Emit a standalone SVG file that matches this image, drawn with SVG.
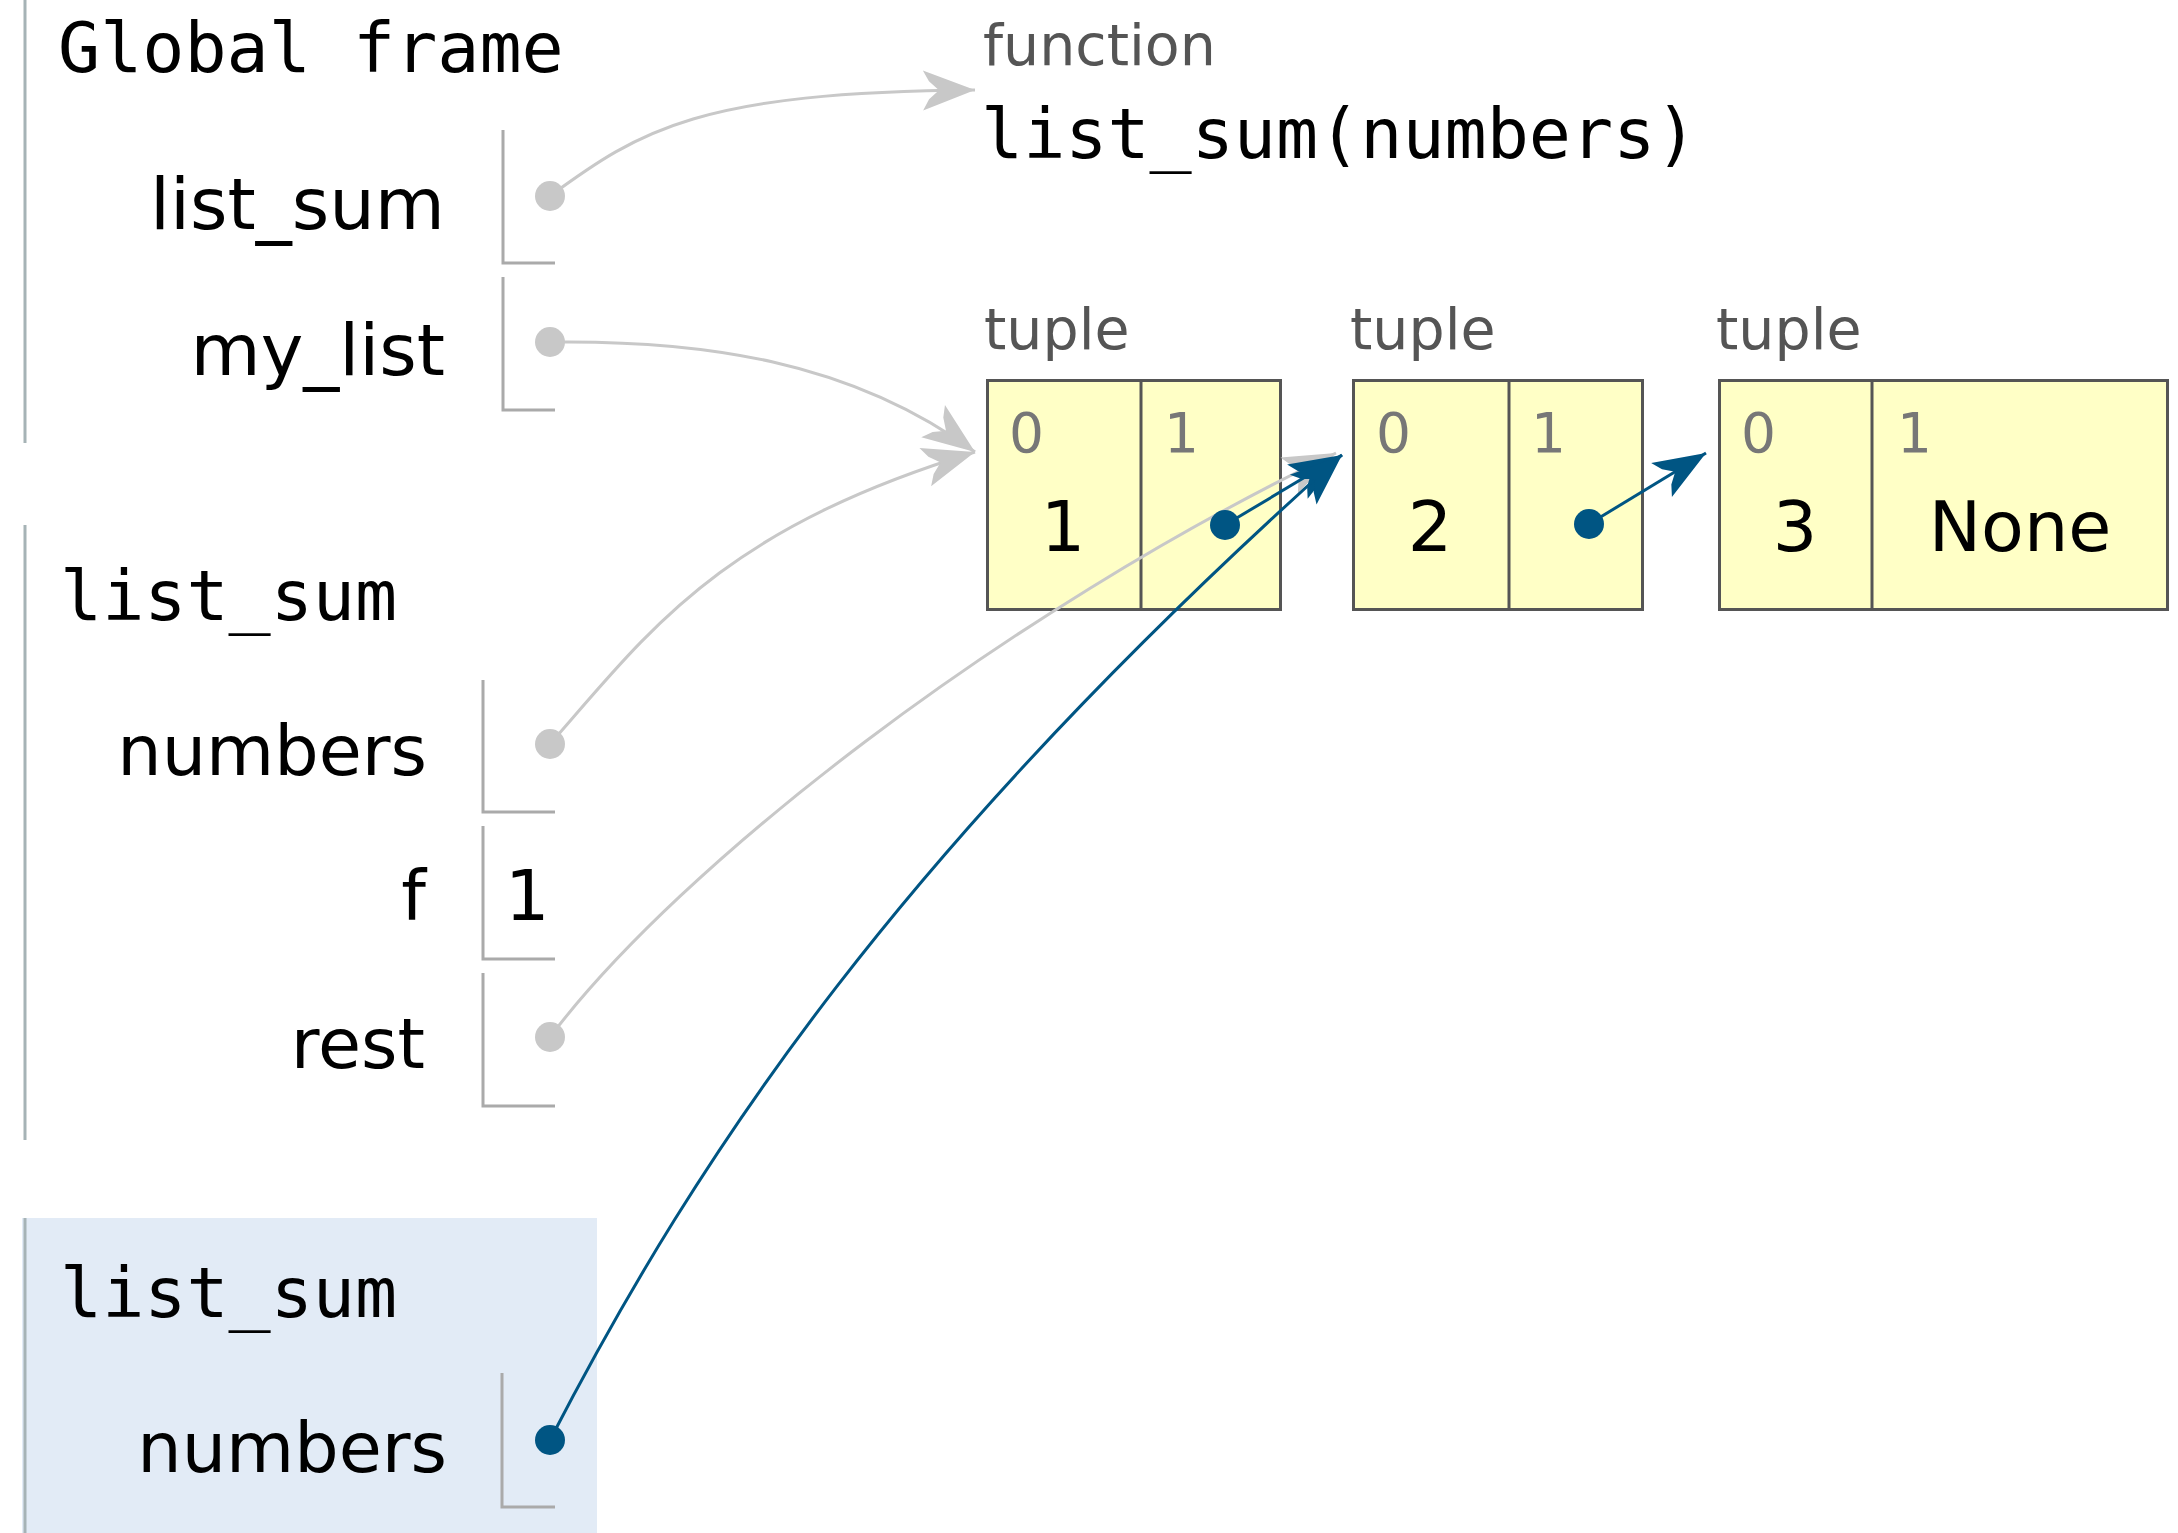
<svg xmlns="http://www.w3.org/2000/svg" width="2178" height="1533" viewBox="0 0 2178 1533">
  <style>
    .mono { font-family: "DejaVu Sans Mono", "Liberation Mono", monospace; font-size: 70px; fill: #000; }
    .var { font-family: "DejaVu Sans", Verdana, sans-serif; font-size: 70px; fill: #000; text-anchor: end; }
    .var-g { font-size: 72px; }
    .val { font-family: "DejaVu Sans", Verdana, sans-serif; font-size: 70px; fill: #000; }
    .type { font-family: "DejaVu Sans", Verdana, sans-serif; font-size: 57px; fill: #555; }
    .idx { font-family: "DejaVu Sans", Verdana, sans-serif; font-size: 55px; fill: #777; }
    .bar { stroke: #a6b3b6; stroke-width: 3; fill: none; }
    .cell { stroke: #aaaaaa; stroke-width: 3; fill: none; }
    .tup { fill: #ffffc6; stroke: #555; stroke-width: 3; }
    .div { stroke: #555; stroke-width: 3; }
    .light { stroke: #c8c8c8; stroke-width: 3; fill: none; }
    .dark { stroke: #005583; stroke-width: 3; fill: none; }
    .dot-light { fill: #c8c8c8; }
    .dot-dark { fill: #005583; }
  </style>
  <defs>
    <marker id="head-light" markerUnits="userSpaceOnUse" markerWidth="60" markerHeight="46" viewBox="-55 -23 58 46" refX="0" refY="0" orient="auto">
      <path d="M0,0 L-52,-20 L-46,-9 L-36,0 L-46,9 L-52,20 Z" fill="#c8c8c8"/>
    </marker>
    <marker id="head-dark" markerUnits="userSpaceOnUse" markerWidth="60" markerHeight="46" viewBox="-55 -23 58 46" refX="0" refY="0" orient="auto">
      <path d="M0,0 L-52,-20 L-46,-9 L-36,0 L-46,9 L-52,20 Z" fill="#005583"/>
    </marker>
  </defs>

  <rect width="2178" height="1533" fill="#ffffff"/>

  <!-- Global frame -->
  <g id="global-frame">
    <line class="bar" x1="25" y1="0" x2="25" y2="443"/>
    <text class="mono" x="58" y="72">Global frame</text>
    <text class="var var-g" x="445" y="229">list_sum</text>
    <polyline class="cell" points="503,130 503,263 555,263"/>
    <text class="var var-g" x="445" y="375">my_list</text>
    <polyline class="cell" points="503,277 503,410 555,410"/>
  </g>

  <!-- list_sum frame (outer call) -->
  <g id="frame-list-sum-1">
    <line class="bar" x1="25" y1="525" x2="25" y2="1140"/>
    <text class="mono" x="60" y="620">list_sum</text>
    <text class="var" x="427" y="775">numbers</text>
    <polyline class="cell" points="483,680 483,812 555,812"/>
    <text class="var" x="426" y="920">f</text>
    <polyline class="cell" points="483,826 483,959 555,959"/>
    <text class="val" x="505" y="920">1</text>
    <text class="var" x="425" y="1068">rest</text>
    <polyline class="cell" points="483,973 483,1106 555,1106"/>
  </g>

  <!-- list_sum frame (current call, highlighted) -->
  <g id="frame-list-sum-2">
    <rect x="22" y="1218" width="575" height="315" fill="#e2ebf6"/>
    <line class="bar" x1="25" y1="1218" x2="25" y2="1533"/>
    <text class="mono" x="60" y="1317">list_sum</text>
    <text class="var" x="447" y="1472">numbers</text>
    <polyline class="cell" points="502,1373 502,1507 555,1507"/>
  </g>

  <!-- function object -->
  <g id="func-list-sum">
    <text class="type" x="983" y="65">function</text>
    <text class="mono" x="981" y="158">list_sum(numbers)</text>
  </g>

  <!-- tuple (1, ...) -->
  <g id="tuple-1">
    <text class="type" x="984" y="349">tuple</text>
    <rect class="tup" x="987.5" y="380.5" width="293" height="229"/>
    <line class="div" x1="1141" y1="380.5" x2="1141" y2="609.5"/>
    <text class="idx" x="1009" y="452">0</text>
    <text class="idx" x="1164" y="452">1</text>
    <text class="val" x="1063" y="551" text-anchor="middle">1</text>
  </g>

  <!-- tuple (2, ...) -->
  <g id="tuple-2">
    <text class="type" x="1350" y="349">tuple</text>
    <rect class="tup" x="1353.5" y="380.5" width="289" height="229"/>
    <line class="div" x1="1509" y1="380.5" x2="1509" y2="609.5"/>
    <text class="idx" x="1376" y="452">0</text>
    <text class="idx" x="1531" y="452">1</text>
    <text class="val" x="1430" y="551" text-anchor="middle">2</text>
  </g>

  <!-- tuple (3, None) -->
  <g id="tuple-3">
    <text class="type" x="1716" y="349">tuple</text>
    <rect class="tup" x="1719.5" y="380.5" width="448" height="229"/>
    <line class="div" x1="1872" y1="380.5" x2="1872" y2="609.5"/>
    <text class="idx" x="1741" y="452">0</text>
    <text class="idx" x="1897" y="452">1</text>
    <text class="val" x="1795" y="551" text-anchor="middle">3</text>
    <text class="val" x="2020" y="551" text-anchor="middle">None</text>
  </g>

  <!-- pointers -->
  <g id="connectors">
    <path class="light" d="M550,196 C640,130 700,92 975,90" marker-end="url(#head-light)"/>
    <path class="light" d="M550,342 C700,340 850,360 975,452" marker-end="url(#head-light)"/>
    <path class="light" d="M550,744 C650,630 720,530 975,452" marker-end="url(#head-light)"/>
    <path class="light" d="M550,1037 C680,865 1000,615 1336,453" marker-end="url(#head-light)"/>
    <circle class="dot-light" cx="550" cy="196" r="15"/>
    <circle class="dot-light" cx="550" cy="342" r="15"/>
    <circle class="dot-light" cx="550" cy="744" r="15"/>
    <circle class="dot-light" cx="550" cy="1037" r="15"/>

    <path class="dark" d="M1225,525 L1342,455" marker-end="url(#head-dark)"/>
    <path class="dark" d="M550,1440 C700,1150 900,850 1342,455" marker-end="url(#head-dark)"/>
    <path class="dark" d="M1589,524 L1706,453" marker-end="url(#head-dark)"/>
    <circle class="dot-dark" cx="1225" cy="525" r="15"/>
    <circle class="dot-dark" cx="1589" cy="524" r="15"/>
    <circle class="dot-dark" cx="550" cy="1440" r="15"/>
  </g>
</svg>
